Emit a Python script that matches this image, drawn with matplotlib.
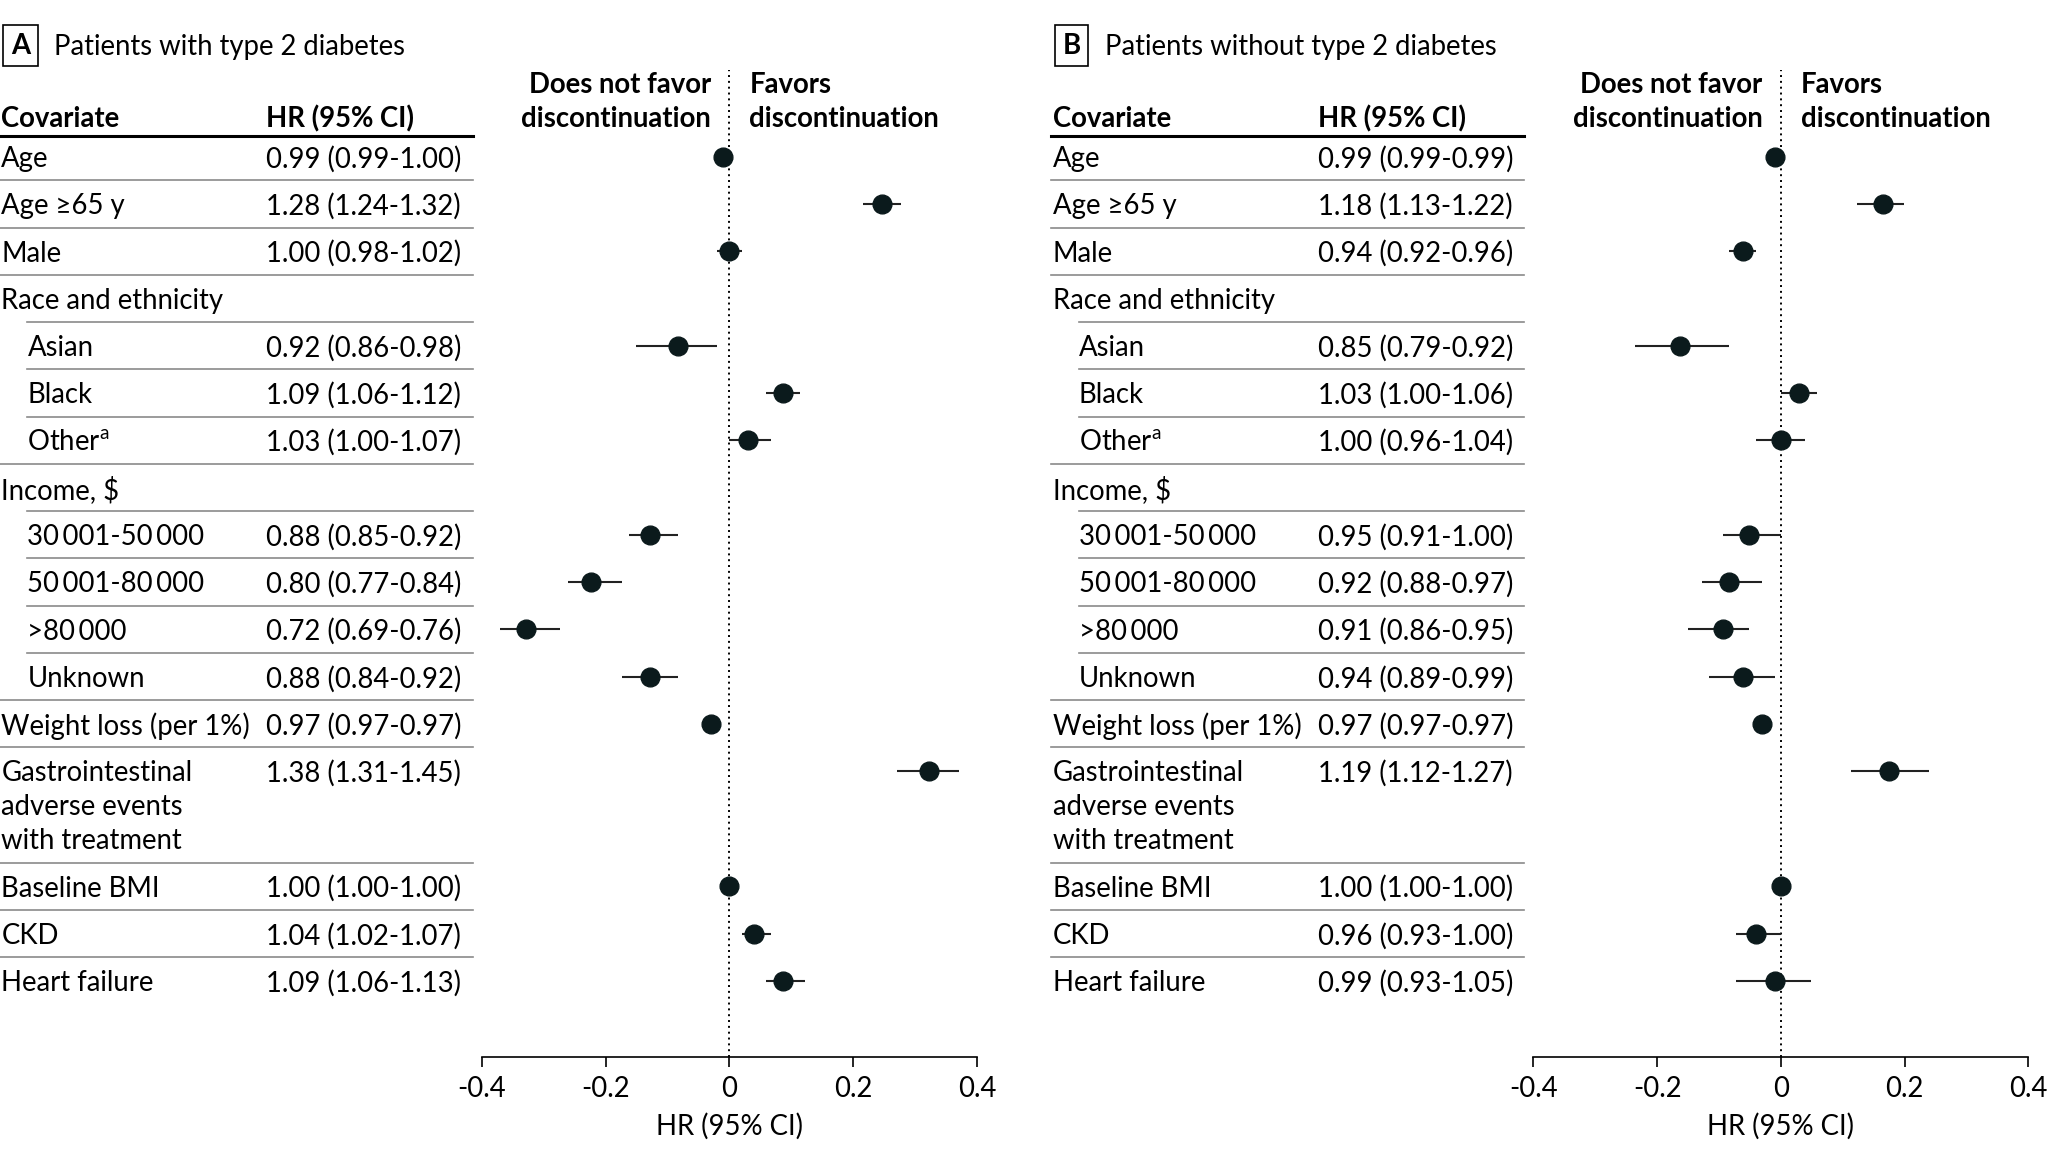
import numpy as np
import matplotlib
matplotlib.use("Agg")
import matplotlib.pyplot as plt
from matplotlib.lines import Line2D
from matplotlib.transforms import blended_transform_factory

# rows of the table (same for both panels)
covariates = ["Age", "Age ≥65 y", "Male", "Race and ethnicity", "Asian", "Black",
              "Other$^{\\mathrm{a}}$", "Income, $", "30\u2009001-50\u2009000",
              "50\u2009001-80\u2009000", ">80\u2009000", "Unknown",
              "Weight loss (per 1%)", "Gastrointestinal\nadverse events\nwith treatment",
              "Baseline BMI", "CKD", "Heart failure"]
indented = [0, 0, 0, 0, 1, 1, 1, 0, 1, 1, 1, 1, 0, 0, 0, 0, 0]

nan = np.nan
# panel A: patients with type 2 diabetes
hr_a = [0.99, 1.28, 1.00, nan, 0.92, 1.09, 1.03, nan, 0.88, 0.80, 0.72, 0.88, 0.97, 1.38, 1.00, 1.04, 1.09]
lo_a = [0.99, 1.24, 0.98, nan, 0.86, 1.06, 1.00, nan, 0.85, 0.77, 0.69, 0.84, 0.97, 1.31, 1.00, 1.02, 1.06]
hi_a = [1.00, 1.32, 1.02, nan, 0.98, 1.12, 1.07, nan, 0.92, 0.84, 0.76, 0.92, 0.97, 1.45, 1.00, 1.07, 1.13]
# panel B: patients without type 2 diabetes
hr_b = [0.99, 1.18, 0.94, nan, 0.85, 1.03, 1.00, nan, 0.95, 0.92, 0.91, 0.94, 0.97, 1.19, 1.00, 0.96, 0.99]
lo_b = [0.99, 1.13, 0.92, nan, 0.79, 1.00, 0.96, nan, 0.91, 0.88, 0.86, 0.89, 0.97, 1.12, 1.00, 0.93, 0.93]
hi_b = [0.99, 1.22, 0.96, nan, 0.92, 1.06, 1.04, nan, 1.00, 0.97, 0.95, 0.99, 0.97, 1.27, 1.00, 1.00, 1.05]

tick_vals = [-0.4, -0.2, 0, 0.2, 0.4]
tick_labels = ["-0.4", "-0.2", "0", "0.2", "0.4"]

plt.rcParams['font.family'] = ['Lato', 'DejaVu Sans']
plt.rcParams['mathtext.fontset'] = 'custom'
plt.rcParams['mathtext.rm'] = 'Lato'
plt.rcParams['axes.unicode_minus'] = False

W, H = 1568.0, 887.0   # layout measured on a scaled copy of the figure
ROW = 36.2             # row pitch in those units
FS = 19.8
DOT = '#0b1a1c'
TXT_DY = 0.05          # small nudge so text sits like in the original


def fx(x):
    return x / W


def fy(y):
    return 1 - y / H


def ry(y):
    # measured y -> row units (Age row = 0)
    return (y - 120) / ROW


# row centres in row units (multi line rows are taller)
line_gap = 0.72
row_top = []
pos = -0.5
for lab in covariates:
    row_top.append(pos)
    pos += 1 + line_gap * (lab.count("\n"))
row_y = [t + 0.5 for t in row_top]
row_bottom = row_top[1:]

fig = plt.figure(figsize=(20.48, 11.58), dpi=100)


def panel(left, letter, title, hr, lo, hi):
    ax = fig.add_axes([fx(left + 369), fy(810), fx(379), (810 - 54) / H])
    ax.set_xlim(-0.4, 0.4)
    ax.set_ylim(ry(810), ry(54))
    for s in ['top', 'left', 'right']:
        ax.spines[s].set_visible(False)
    ax.spines['bottom'].set_linewidth(1.2)
    ax.set_yticks([])
    ax.set_xticks(tick_vals)
    ax.set_xticklabels(tick_labels)
    ax.tick_params(axis='x', direction='out', length=7, width=1.2, pad=6, labelsize=FS)
    ax.set_xlabel("HR (95% CI)", fontsize=FS, labelpad=8)

    ax.axvline(0, color='black', lw=1.4, ls=(0, (1, 2)), zorder=1)

    est = np.log(np.array(hr))
    ax.hlines(row_y, np.log(np.array(lo)), np.log(np.array(hi)), color='#222222', lw=1.5, zorder=2)
    ax.plot(est, row_y, 'o', color=DOT, ms=13.5, zorder=3)

    for k, (l1, l2) in enumerate([("Does not favor", "Favors"), ("discontinuation", "discontinuation")]):
        yy = ry(63) + k * line_gap + TXT_DY
        ax.text(-0.03, yy, l1, ha='right', va='center', fontsize=FS, fontweight='bold')
        ax.text(0.032, yy, l2, ha='left', va='center', fontsize=FS, fontweight='bold')

    tr = blended_transform_factory(fig.transFigure, ax.transData)
    x_cov = fx(left + 1)
    x_ind = fx(left + 21)
    x_hr = fx(left + 204)
    x_end = fx(left + 362)

    # title with boxed letter
    fig.text(fx(left + 15.5), fy(35), letter, ha='center', va='center', fontsize=FS,
             fontweight='bold', bbox=dict(boxstyle='square,pad=0.28', fc='white', ec='black', lw=1.2))
    fig.text(fx(left + 41), fy(36), title, ha='left', va='center', fontsize=FS)

    hy = ry(89) + TXT_DY
    ax.text(x_cov, hy, "Covariate", transform=tr, ha='left', va='center', fontsize=FS, fontweight='bold')
    ax.text(x_hr, hy, "HR (95% CI)", transform=tr, ha='left', va='center', fontsize=FS, fontweight='bold')
    ax.add_line(Line2D([x_cov - fx(1), x_end], [ry(104)] * 2, transform=tr,
                       color='black', lw=2.2, clip_on=False))

    for i, lab in enumerate(covariates):
        xx = x_ind if indented[i] else x_cov
        for k, part in enumerate(lab.split("\n")):
            ax.text(xx, row_y[i] + k * line_gap + TXT_DY, part, transform=tr, ha='left', va='center',
                    fontsize=FS)
        if not np.isnan(hr[i]):
            ax.text(x_hr, row_y[i] + TXT_DY, f"{hr[i]:.2f} ({lo[i]:.2f}-{hi[i]:.2f})", transform=tr,
                    ha='left', va='center', fontsize=FS)
    for i, yb in enumerate(row_bottom):
        start = x_ind if indented[i + 1] else x_cov - fx(1)
        ax.add_line(Line2D([start, x_end], [yb, yb], transform=tr, color='#8a8a8a', lw=1.2, clip_on=False))
    return ax


panel(0, "A", "Patients with type 2 diabetes", hr_a, lo_a, hi_a)
panel(805, "B", "Patients without type 2 diabetes", hr_b, lo_b, hi_b)

fig.savefig("out.png", dpi=100, facecolor='white')
